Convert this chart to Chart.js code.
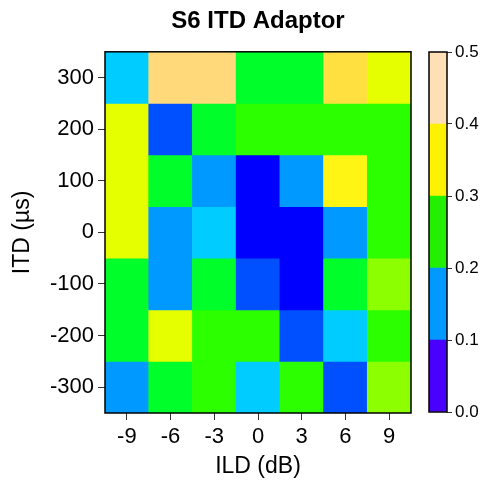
<!DOCTYPE html>
<html>
<head>
<meta charset="utf-8">
<script src="https://cdn.jsdelivr.net/npm/chart.js@4.4.0/dist/chart.umd.min.js"></script>
<style>
html, body { margin: 0; padding: 0; background: #fff; }
#wrap { position: relative; width: 484px; height: 482px; }
#heat { position: absolute; left: 0; top: 0; }
#bar { position: absolute; left: 420px; top: 0; }
</style>
</head>
<body>
<div id="wrap">
  <canvas id="heat" width="484" height="482"></canvas>
  <canvas id="bar" width="64" height="482"></canvas>
</div>
<script>
// ILD columns (dB) and ITD rows (us), top row first
const ildLabels = ['-9', '-6', '-3', '0', '3', '6', '9'];
const itdRows = [300, 200, 100, 0, -100, -200, -300];

// adaptation value per cell, one array per ITD row
const row300  = [0.18, 0.45, 0.45, 0.22, 0.22, 0.40, 0.32];
const row200  = [0.32, 0.10, 0.22, 0.25, 0.25, 0.25, 0.25];
const row100  = [0.32, 0.22, 0.15, 0.05, 0.15, 0.35, 0.25];
const row0    = [0.32, 0.15, 0.18, 0.05, 0.05, 0.15, 0.25];
const rowM100 = [0.22, 0.15, 0.22, 0.10, 0.05, 0.22, 0.28];
const rowM200 = [0.22, 0.32, 0.25, 0.25, 0.10, 0.18, 0.25];
const rowM300 = [0.15, 0.22, 0.25, 0.18, 0.25, 0.10, 0.28];
const cellValues = [row300, row200, row100, row0, rowM100, rowM200, rowM300];

// colour ramp used for the cells
const rampValues = [0.05, 0.10, 0.15, 0.18, 0.22, 0.25, 0.28, 0.32, 0.35, 0.40, 0.45];
const rampColors = ['#0000ff', '#0050ff', '#0099ff', '#00ccff', '#00ff2a', '#2bff00',
                    '#8cff00', '#e5ff00', '#fff514', '#ffe040', '#ffd97a'];

// colour bar bins and ticks
const barBreaks = [0, 0.1, 0.2, 0.3, 0.4, 0.5];
const barColors = ['#4a00ff', '#0099ff', '#22f000', '#fff200', '#ffdfb5'];

function hexToRgb(h) {
    return [parseInt(h.slice(1, 3), 16), parseInt(h.slice(3, 5), 16), parseInt(h.slice(5, 7), 16)];
}

function valueColor(v) {
    if (v <= rampValues[0]) return rampColors[0];
    for (let i = 1; i < rampValues.length; i++) {
        if (v <= rampValues[i]) {
            const t = (v - rampValues[i - 1]) / (rampValues[i] - rampValues[i - 1]);
            const a = hexToRgb(rampColors[i - 1]);
            const b = hexToRgb(rampColors[i]);
            const c = a.map((x, k) => Math.round(x + (b[k] - x) * t));
            return `rgb(${c[0]},${c[1]},${c[2]})`;
        }
    }
    return rampColors[rampColors.length - 1];
}

const boxBorder = {
    id: 'boxBorder',
    afterDatasetsDraw(chart) {
        const a = chart.chartArea;
        const ctx = chart.ctx;
        ctx.save();
        ctx.strokeStyle = '#000';
        ctx.lineWidth = 1.5;
        ctx.strokeRect(a.left, a.top, a.right - a.left, a.bottom - a.top);
        ctx.restore();
    }
};

const fontFamily = '"Liberation Sans", Arial, sans-serif';

const heatDatasets = itdRows.map((itd, r) => ({
    data: ildLabels.map(() => [itd - 50, itd + 50]),
    backgroundColor: cellValues[r].map(valueColor),
    borderWidth: 0,
    grouped: false,
    barPercentage: 1,
    categoryPercentage: 1
}));

new Chart(document.getElementById('heat'), {
    type: 'bar',
    data: { labels: ildLabels, datasets: heatDatasets },
    options: {
        responsive: false,
        animation: false,
        layout: { padding: { left: 0, right: 73, top: 0, bottom: 0 } },
        plugins: {
            legend: { display: false },
            tooltip: { enabled: false },
            title: {
                display: true,
                text: 'S6 ITD Adaptor',
                fullSize: false,
                color: '#000',
                font: { family: fontFamily, size: 24, weight: 'bold' },
                padding: { top: 7, bottom: 16 }
            }
        },
        scales: {
            x: {
                grid: { offset: false, drawOnChartArea: false, tickLength: 7, color: '#333' },
                border: { display: false },
                ticks: { color: '#000', font: { family: fontFamily, size: 22 }, padding: 4 },
                title: {
                    display: true, text: 'ILD (dB)', color: '#000',
                    font: { family: fontFamily, size: 23 }, padding: { top: 0, bottom: 2 }
                },
                afterFit(scale) { scale.height = 69; }
            },
            y: {
                min: -350,
                max: 350,
                grid: { drawOnChartArea: false, tickLength: 7, color: '#333' },
                border: { display: false },
                ticks: { color: '#000', font: { family: fontFamily, size: 22 }, padding: 4 },
                afterBuildTicks(scale) {
                    scale.ticks = itdRows.map(v => ({ value: v }));
                },
                title: {
                    display: true, text: 'ITD (µs)', color: '#000',
                    font: { family: fontFamily, size: 23 }, padding: { top: 9, bottom: 0 }
                },
                afterFit(scale) { scale.width = 105; }
            }
        }
    },
    plugins: [boxBorder]
});

const barDatasets = barColors.map((col, i) => ({
    data: [[barBreaks[i], barBreaks[i + 1]]],
    backgroundColor: col,
    borderWidth: 0,
    grouped: false,
    barPercentage: 1,
    categoryPercentage: 1
}));

new Chart(document.getElementById('bar'), {
    type: 'bar',
    data: { labels: [''], datasets: barDatasets },
    options: {
        responsive: false,
        animation: false,
        layout: { padding: { left: 9, right: 0, top: 52, bottom: 70 } },
        plugins: { legend: { display: false }, tooltip: { enabled: false } },
        scales: {
            x: { display: false },
            y: {
                position: 'right',
                min: 0,
                max: 0.5,
                grid: { drawOnChartArea: false, tickLength: 5, color: '#333' },
                border: { display: false },
                ticks: {
                    color: '#000', padding: 3,
                    font: { family: fontFamily, size: 17 },
                    callback: v => v.toFixed(1)
                },
                afterBuildTicks(scale) {
                    scale.ticks = barBreaks.map(v => ({ value: v }));
                },
                afterFit(scale) { scale.width = 37; }
            }
        }
    },
    plugins: [boxBorder]
});
</script>
</body>
</html>
